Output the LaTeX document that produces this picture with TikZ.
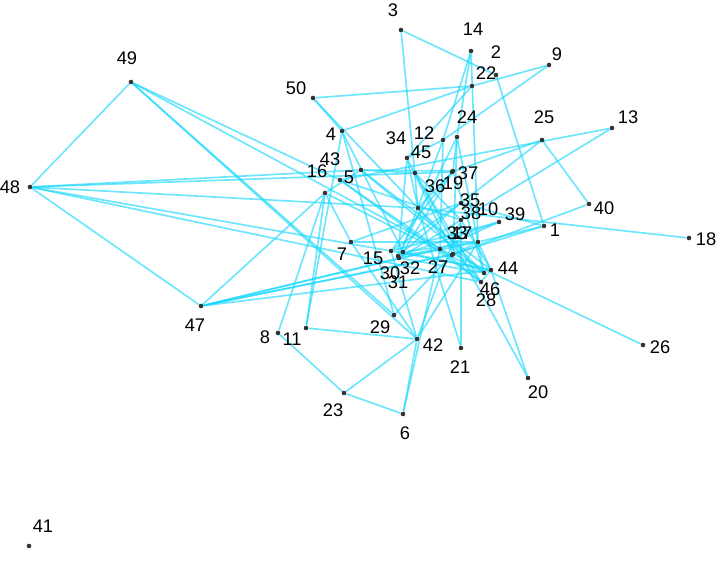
\documentclass[tikz,border=0pt]{standalone}
\usepackage{fontspec}
\setmainfont{Liberation Sans}
\usetikzlibrary{backgrounds}
\definecolor{edgecyan}{RGB}{20,215,252}
\definecolor{dotgray}{RGB}{50,50,50}
\tikzset{
  vert/.style={circle, fill=dotgray, inner sep=0pt, minimum size=2.6pt},
  vlabel/.style={inner sep=0pt, font=\fontsize{10.4}{12}\selectfont},
  edge/.style={draw=edgecyan, opacity=0.62, line width=0.95pt}
}

\begin{document}
\begin{tikzpicture}[x=0.02cm, y=-0.02cm]
\useasboundingbox (0,0) rectangle (720,562);

% vertices: name / dot x / dot y / label x / label y
\foreach \n/\x/\y/\lx/\ly in {
  1/544/226/555/230, 2/496/75/496/52, 3/401/30/393/10, 4/342/131/331/134,
  5/361/170/349/177, 6/403/414/405/433, 7/351/242/342/254, 8/278/333/265/337,
  9/549/65/557/54, 10/478/242/488/209, 11/306/328/292/339, 12/443/140/424/133,
  13/612/128/628/117, 14/471/51/473/29, 15/391/251/373/258, 16/325/193/317/171,
  17/453/254/462/233, 18/689/238/706/239, 19/452/172/453/183, 20/528/378/538/392,
  21/461/348/460/367, 22/472/86/486/73, 23/344/393/333/410, 24/457/137/467/117,
  25/542/140/544/117, 26/643/345/660/347, 27/440/249/438/267, 28/481/282/486/300,
  29/394/315/380/327, 30/398/256/390/273, 31/399/258/398/282, 32/403/252/410/268,
  33/452/255/457/233, 34/407/158/396/138, 35/461/203/470/200, 36/418/208/435/186,
  37/453/171/468/173, 38/461/220/471/213, 39/499/222/515/214, 40/589/204/604/208,
  41/29/546/43/526, 42/417/339/433/345, 43/340/180/330/159, 44/491/270/508/268,
  45/415/173/421/152, 46/484/273/490/289, 47/201/306/195/325, 48/30/187/10/187,
  49/131/82/127/58, 50/313/98/296/88}{
  \node[vert] (v\n) at (\x,\y) {};
  \node[vlabel] (t\n) at (\lx,\ly) {\n};
}

\begin{pgfonlayer}{background}
\foreach \a/\b in {
  2/3, 2/1, 22/50, 22/4, 22/9, 9/12, 14/12, 14/24, 14/10, 3/36, 50/4, 50/36,
  4/11, 4/32, 4/29, 48/49, 48/47, 48/5, 48/19, 48/36, 48/15, 48/28,
  49/43, 49/33, 49/29, 49/42, 47/16, 47/27, 47/17, 47/33, 47/44, 47/31,
  16/8, 16/11, 16/7, 16/5, 8/23, 11/42, 23/42, 23/6, 6/42, 6/27,
  7/42, 29/33, 42/15, 42/38, 42/10, 21/36, 21/38, 20/45, 20/44, 26/17,
  18/36, 40/25, 40/33, 13/43, 13/38, 25/35, 25/19, 1/35, 1/17, 1/10,
  5/45, 5/37, 5/44, 5/46, 43/38, 43/27, 34/12, 34/36, 34/30, 34/17,
  45/38, 45/28, 22/34, 19/15, 19/36, 37/24, 37/32, 35/30, 35/15, 38/31,
  38/44, 39/27, 39/30, 39/15, 10/44, 10/33, 12/27, 24/17, 24/46, 36/46,
  36/28, 30/27, 31/46, 32/10, 27/28, 44/28, 12/31, 24/30, 35/7, 37/46,
  10/7, 15/44, 32/44, 31/10, 43/28, 16/46}
  \draw[edge] (v\a) -- (v\b);
\end{pgfonlayer}
\end{tikzpicture}
\end{document}
